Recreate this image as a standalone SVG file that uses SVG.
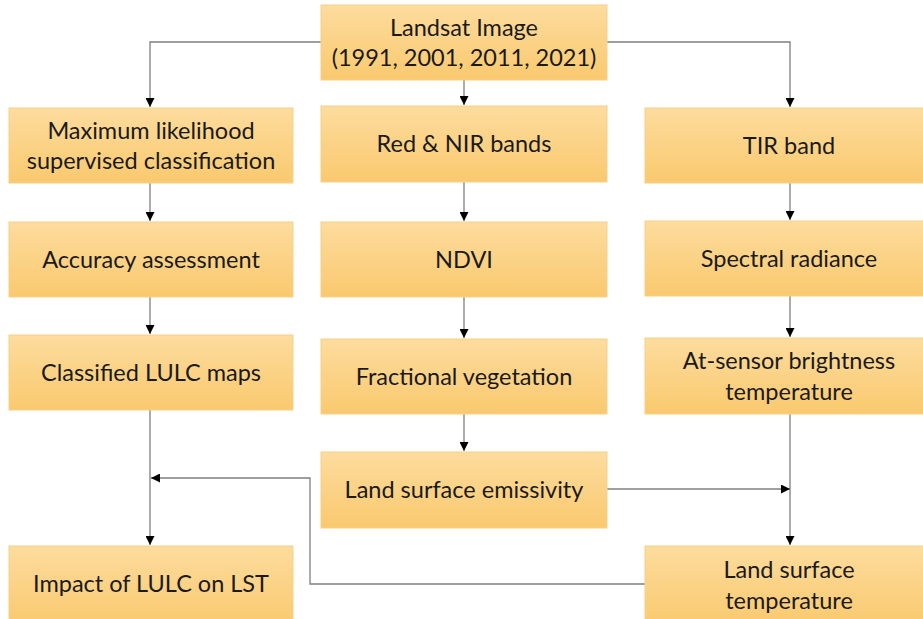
<svg xmlns="http://www.w3.org/2000/svg" width="923" height="619" viewBox="0 0 923 619">
<defs>
<linearGradient id="g" x1="0" y1="0" x2="0" y2="1">
<stop offset="0" stop-color="#fddc9e"/>
<stop offset="1" stop-color="#f9c96e"/>
</linearGradient>
<marker id="ah" markerUnits="userSpaceOnUse" markerWidth="9" markerHeight="9" viewBox="0 0 10 10" refX="10" refY="5" orient="auto">
<path d="M0,0 L10,5 L0,10 z" fill="#000"/>
</marker>
</defs>
<style>
.box{fill:url(#g);stroke:#f6d08a;stroke-width:1}
.t{font-family:Lato,"Liberation Sans",sans-serif;font-size:23.5px;fill:#1a1a1a;text-anchor:middle}
.c{fill:none;stroke:#7f7f7f;stroke-width:1.3;marker-end:url(#ah)}
.n{fill:none;stroke:#7f7f7f;stroke-width:1.3}
</style>
<rect width="923" height="619" fill="#fff"/>
<g id="connectors">
<path class="c" d="M321,42 H150 V107"/>
<path class="c" d="M464,80 V105"/>
<path class="c" d="M607,42 H790 V107"/>
<path class="c" d="M150,183 V221"/>
<path class="c" d="M150,297 V334"/>
<path class="c" d="M150,410 V545"/>
<path class="c" d="M464,182 V221"/>
<path class="c" d="M464,297 V338"/>
<path class="c" d="M464,414 V451"/>
<path class="c" d="M790,183 V220"/>
<path class="c" d="M790,296 V337"/>
<path class="c" d="M790,414 V545"/>
<path class="c" d="M607,489 H790"/>
<path class="c" d="M645,584 H310 V478 H151"/>
</g>
<g id="landsat"><rect class="box" x="321" y="5" width="286" height="75"/><text class="t" x="464" y="36">Landsat Image</text><text class="t" x="464" y="66">(1991, 2001, 2011, 2021)</text></g>
<g id="mlc"><rect class="box" x="9" y="108" width="284" height="75"/><text class="t" x="151" y="139">Maximum likelihood</text><text class="t" x="151" y="169">supervised classification</text></g>
<g id="accuracy"><rect class="box" x="9" y="222" width="284" height="75"/><text class="t" x="151" y="268">Accuracy assessment</text></g>
<g id="lulc"><rect class="box" x="9" y="335" width="284" height="75"/><text class="t" x="151" y="381">Classified LULC maps</text></g>
<g id="impact"><rect class="box" x="9" y="546" width="284" height="80"/><text class="t" x="151" y="592">Impact of LULC on LST</text></g>
<g id="rednir"><rect class="box" x="321" y="106" width="286" height="76"/><text class="t" x="464" y="152">Red &amp; NIR bands</text></g>
<g id="ndvi"><rect class="box" x="321" y="222" width="286" height="75"/><text class="t" x="464" y="268">NDVI</text></g>
<g id="fv"><rect class="box" x="321" y="339" width="286" height="75"/><text class="t" x="464" y="385">Fractional vegetation</text></g>
<g id="lse"><rect class="box" x="321" y="452" width="286" height="76"/><text class="t" x="464" y="498">Land surface emissivity</text></g>
<g id="tir"><rect class="box" x="645" y="108" width="285" height="75"/><text class="t" x="789" y="154">TIR band</text></g>
<g id="radiance"><rect class="box" x="645" y="221" width="285" height="75"/><text class="t" x="789" y="267">Spectral radiance</text></g>
<g id="bt"><rect class="box" x="645" y="338" width="285" height="76"/><text class="t" x="789" y="369">At-sensor brightness</text><text class="t" x="789" y="400">temperature</text></g>
<g id="lst"><rect class="box" x="645" y="546" width="285" height="80"/><text class="t" x="789" y="578">Land surface</text><text class="t" x="789" y="609">temperature</text></g>
</svg>
